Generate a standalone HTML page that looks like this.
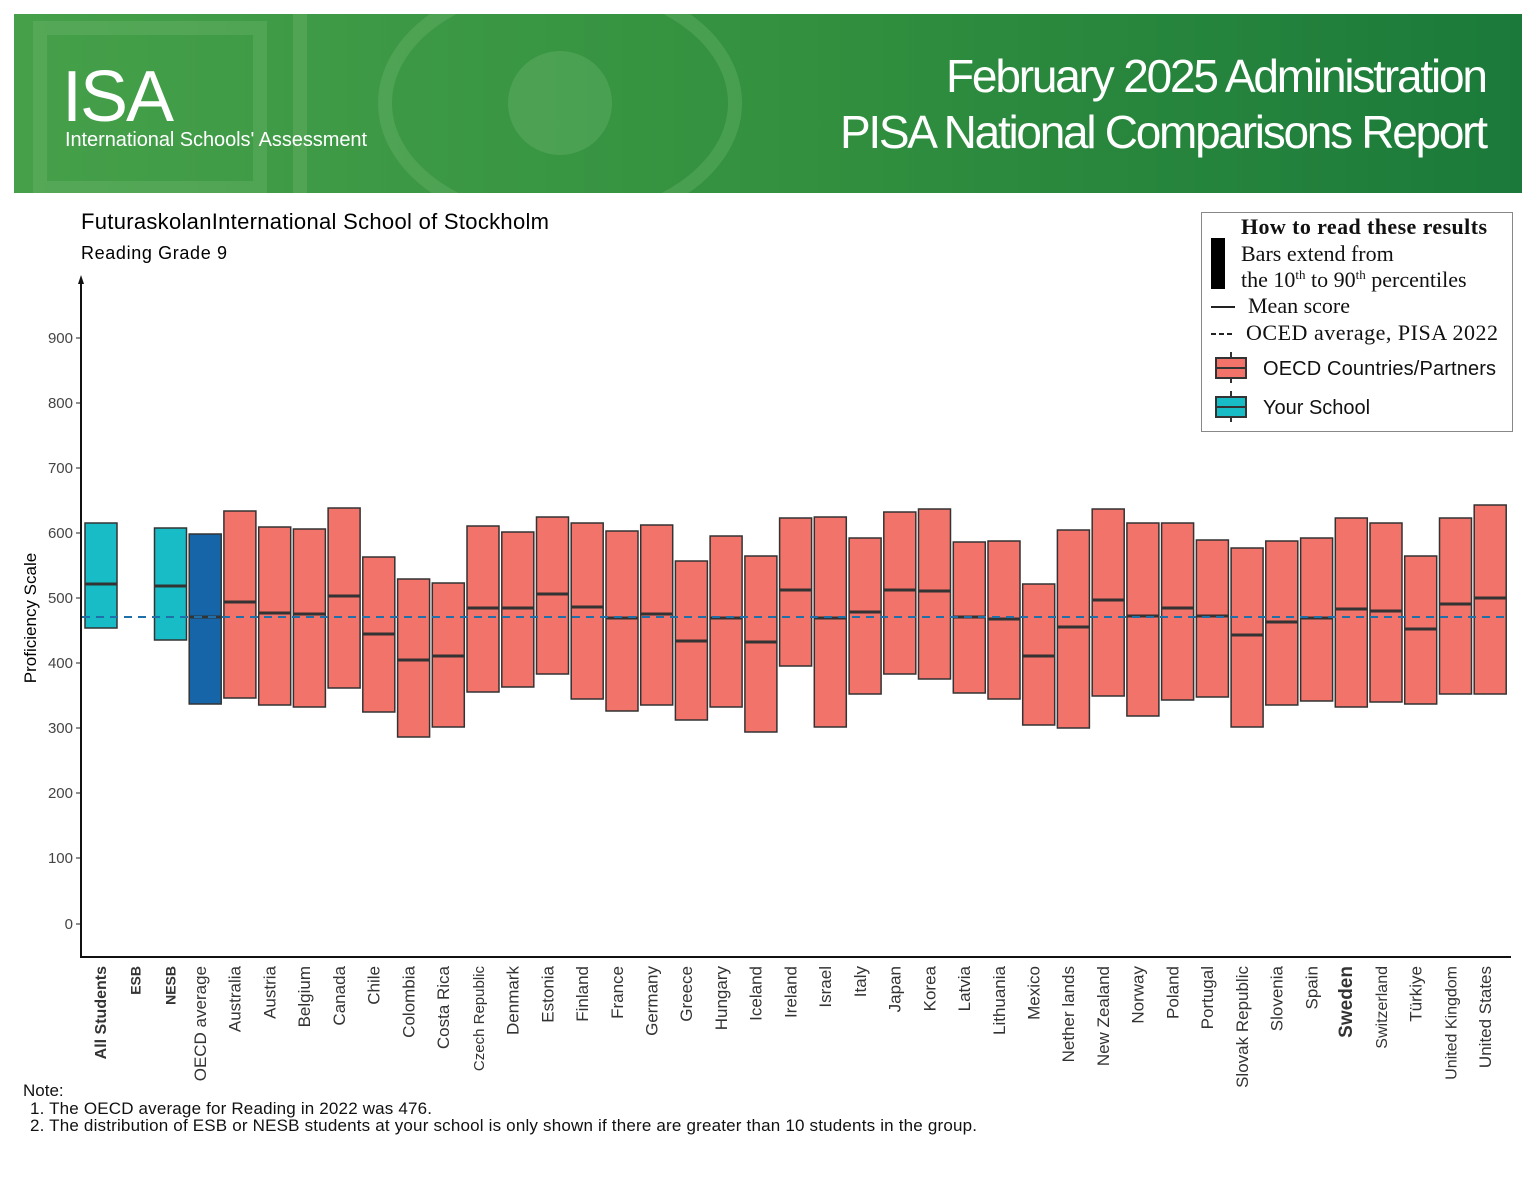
<!DOCTYPE html>
<html><head><meta charset="utf-8"><style>
html,body{margin:0;padding:0;background:#fff;}
svg{display:block;font-family:"Liberation Sans",sans-serif;}
</style></head><body>
<svg width="1536" height="1187" viewBox="0 0 1536 1187" xmlns="http://www.w3.org/2000/svg">
<defs><linearGradient id="g" x1="0" x2="1"><stop offset="0" stop-color="#46a04a"/><stop offset="0.5" stop-color="#33913f"/><stop offset="1" stop-color="#1b7a3a"/></linearGradient>
<clipPath id="bc"><rect x="14" y="14" width="1508" height="179"/></clipPath></defs>
<rect x="14" y="14" width="1508" height="179" fill="url(#g)"/>
<g clip-path="url(#bc)">
<g fill="none" stroke="#6fb86f" stroke-opacity="0.35" stroke-width="14">
<rect x="40" y="28" width="220" height="160"/>
<ellipse cx="560" cy="103" rx="175" ry="120"/>
<line x1="300" y1="14" x2="300" y2="193"/>
</g>
<circle cx="560" cy="103" r="52" fill="#6fb86f" fill-opacity="0.35"/>
</g>
<text x="62" y="121" fill="#fff" font-size="72" font-weight="300" textLength="112">ISA</text>
<text x="65" y="146" fill="#fff" font-size="20" textLength="302">International Schools' Assessment</text>
<text x="1488" y="92" fill="#fff" font-size="46" text-anchor="end" textLength="542">February 2025 Administration</text>
<text x="1488" y="148" fill="#fff" font-size="46" text-anchor="end" textLength="648">PISA National Comparisons Report</text>

<text x="81" y="229" font-size="22" textLength="468">FuturaskolanInternational School of Stockholm</text>
<text x="81" y="259" font-size="18" textLength="146">Reading Grade 9</text>

<text transform="translate(36,618) rotate(-90)" font-size="17" text-anchor="middle">Proficiency Scale</text>
<g font-size="15" fill="#444" text-anchor="end">
<text x="73" y="343">900</text><text x="73" y="408">800</text><text x="73" y="473">700</text><text x="73" y="538">600</text><text x="73" y="603">500</text><text x="73" y="668">400</text><text x="73" y="733">300</text><text x="73" y="798">200</text><text x="73" y="863">100</text><text x="73" y="929">0</text>
</g>
<g stroke="#222" stroke-width="1">
<line x1="76" y1="338" x2="81" y2="338"/><line x1="76" y1="403" x2="81" y2="403"/><line x1="76" y1="468" x2="81" y2="468"/><line x1="76" y1="533" x2="81" y2="533"/><line x1="76" y1="598" x2="81" y2="598"/><line x1="76" y1="663" x2="81" y2="663"/><line x1="76" y1="728" x2="81" y2="728"/><line x1="76" y1="793" x2="81" y2="793"/><line x1="76" y1="858" x2="81" y2="858"/><line x1="76" y1="924" x2="81" y2="924"/>
</g>
<line x1="81" y1="282" x2="81" y2="957" stroke="#111" stroke-width="2"/>
<polygon points="81,275 78,284 84,284" fill="#111"/>
<line x1="80" y1="957" x2="1511" y2="957" stroke="#111" stroke-width="2"/>

<g stroke="#333" stroke-width="1.5">
<rect x="85" y="523" width="32" height="105" fill="#17bcc6"/>
<rect x="154.5" y="528" width="32" height="112" fill="#17bcc6"/>
<rect x="189.2" y="534" width="32" height="170" fill="#1565a8"/>
<g fill="#f2736a">
<rect x="223.9" y="511" width="32" height="187"/>
<rect x="258.7" y="527" width="32" height="178"/>
<rect x="293.4" y="529" width="32" height="178"/>
<rect x="328.1" y="508" width="32" height="180"/>
<rect x="362.8" y="557" width="32" height="155"/>
<rect x="397.6" y="579" width="32" height="158"/>
<rect x="432.3" y="583" width="32" height="144"/>
<rect x="467" y="526" width="32" height="166"/>
<rect x="501.8" y="532" width="32" height="155"/>
<rect x="536.5" y="517" width="32" height="157"/>
<rect x="571.2" y="523" width="32" height="176"/>
<rect x="606" y="531" width="32" height="180"/>
<rect x="640.7" y="525" width="32" height="180"/>
<rect x="675.4" y="561" width="32" height="159"/>
<rect x="710.1" y="536" width="32" height="171"/>
<rect x="744.9" y="556" width="32" height="176"/>
<rect x="779.6" y="518" width="32" height="148"/>
<rect x="814.3" y="517" width="32" height="210"/>
<rect x="849.1" y="538" width="32" height="156"/>
<rect x="883.8" y="512" width="32" height="162"/>
<rect x="918.5" y="509" width="32" height="170"/>
<rect x="953.3" y="542" width="32" height="151"/>
<rect x="988" y="541" width="32" height="158"/>
<rect x="1022.7" y="584" width="32" height="141"/>
<rect x="1057.4" y="530" width="32" height="198"/>
<rect x="1092.2" y="509" width="32" height="187"/>
<rect x="1126.9" y="523" width="32" height="193"/>
<rect x="1161.6" y="523" width="32" height="177"/>
<rect x="1196.4" y="540" width="32" height="157"/>
<rect x="1231.1" y="548" width="32" height="179"/>
<rect x="1265.8" y="541" width="32" height="164"/>
<rect x="1300.6" y="538" width="32" height="163"/>
<rect x="1335.3" y="518" width="32" height="189"/>
<rect x="1370" y="523" width="32" height="179"/>
<rect x="1404.7" y="556" width="32" height="148"/>
<rect x="1439.5" y="518" width="32" height="176"/>
<rect x="1474.2" y="505" width="32" height="189"/>
</g>
</g>
<g stroke="#333" stroke-width="3">
<line x1="85" x2="117" y1="584" y2="584"/>
<line x1="154.5" x2="186.5" y1="586" y2="586"/>
<line x1="189.2" x2="221.2" y1="617" y2="617"/>
<line x1="223.9" x2="255.9" y1="602" y2="602"/>
<line x1="258.7" x2="290.7" y1="613" y2="613"/>
<line x1="293.4" x2="325.4" y1="614" y2="614"/>
<line x1="328.1" x2="360.1" y1="596" y2="596"/>
<line x1="362.8" x2="394.8" y1="634" y2="634"/>
<line x1="397.6" x2="429.6" y1="660" y2="660"/>
<line x1="432.3" x2="464.3" y1="656" y2="656"/>
<line x1="467" x2="499" y1="608" y2="608"/>
<line x1="501.8" x2="533.8" y1="608" y2="608"/>
<line x1="536.5" x2="568.5" y1="594" y2="594"/>
<line x1="571.2" x2="603.2" y1="607" y2="607"/>
<line x1="606" x2="638" y1="618" y2="618"/>
<line x1="640.7" x2="672.7" y1="614" y2="614"/>
<line x1="675.4" x2="707.4" y1="641" y2="641"/>
<line x1="710.1" x2="742.1" y1="618" y2="618"/>
<line x1="744.9" x2="776.9" y1="642" y2="642"/>
<line x1="779.6" x2="811.6" y1="590" y2="590"/>
<line x1="814.3" x2="846.3" y1="618" y2="618"/>
<line x1="849.1" x2="881.1" y1="612" y2="612"/>
<line x1="883.8" x2="915.8" y1="590" y2="590"/>
<line x1="918.5" x2="950.5" y1="591" y2="591"/>
<line x1="953.3" x2="985.3" y1="617" y2="617"/>
<line x1="988" x2="1020" y1="619" y2="619"/>
<line x1="1022.7" x2="1054.7" y1="656" y2="656"/>
<line x1="1057.4" x2="1089.4" y1="627" y2="627"/>
<line x1="1092.2" x2="1124.2" y1="600" y2="600"/>
<line x1="1126.9" x2="1158.9" y1="616" y2="616"/>
<line x1="1161.6" x2="1193.6" y1="608" y2="608"/>
<line x1="1196.4" x2="1228.4" y1="616" y2="616"/>
<line x1="1231.1" x2="1263.1" y1="635" y2="635"/>
<line x1="1265.8" x2="1297.8" y1="622" y2="622"/>
<line x1="1300.6" x2="1332.6" y1="618" y2="618"/>
<line x1="1335.3" x2="1367.3" y1="609" y2="609"/>
<line x1="1370" x2="1402" y1="611" y2="611"/>
<line x1="1404.7" x2="1436.7" y1="629" y2="629"/>
<line x1="1439.5" x2="1471.5" y1="604" y2="604"/>
<line x1="1474.2" x2="1506.2" y1="598" y2="598"/>
</g>
<line x1="82" y1="617" x2="1510" y2="617" stroke="#1f6fa8" stroke-width="2" stroke-dasharray="8,6"/>

<g font-size="17" fill="#333" text-anchor="end">
<text transform="translate(106,966) rotate(-90)" font-weight="bold" font-size="16">All Students</text>
<text transform="translate(140.7,966) rotate(-90)" font-weight="bold" font-size="14">ESB</text>
<text transform="translate(175.5,966) rotate(-90)" font-weight="bold" font-size="14">NESB</text>
<text transform="translate(206,966) rotate(-90)">OECD average</text>
<text transform="translate(240.7,966) rotate(-90)">Australia</text>
<text transform="translate(275.5,966) rotate(-90)">Austria</text>
<text transform="translate(310.2,966) rotate(-90)">Belgium</text>
<text transform="translate(344.9,966) rotate(-90)">Canada</text>
<text transform="translate(379.6,966) rotate(-90)">Chile</text>
<text transform="translate(414.4,966) rotate(-90)">Colombia</text>
<text transform="translate(449.1,966) rotate(-90)">Costa Rica</text>
<text transform="translate(483.8,966) rotate(-90)" font-size="15">Czech Republic</text>
<text transform="translate(518.6,966) rotate(-90)">Denmark</text>
<text transform="translate(553.3,966) rotate(-90)">Estonia</text>
<text transform="translate(588,966) rotate(-90)">Finland</text>
<text transform="translate(622.8,966) rotate(-90)">France</text>
<text transform="translate(657.5,966) rotate(-90)">Germany</text>
<text transform="translate(692.2,966) rotate(-90)">Greece</text>
<text transform="translate(726.9,966) rotate(-90)">Hungary</text>
<text transform="translate(761.7,966) rotate(-90)">Iceland</text>
<text transform="translate(796.4,966) rotate(-90)">Ireland</text>
<text transform="translate(831.1,966) rotate(-90)">Israel</text>
<text transform="translate(865.9,966) rotate(-90)">Italy</text>
<text transform="translate(900.6,966) rotate(-90)">Japan</text>
<text transform="translate(935.3,966) rotate(-90)">Korea</text>
<text transform="translate(970.1,966) rotate(-90)">Latvia</text>
<text transform="translate(1004.8,966) rotate(-90)">Lithuania</text>
<text transform="translate(1039.5,966) rotate(-90)">Mexico</text>
<text transform="translate(1074.2,966) rotate(-90)">Nether lands</text>
<text transform="translate(1109,966) rotate(-90)">New Zealand</text>
<text transform="translate(1143.7,966) rotate(-90)">Norway</text>
<text transform="translate(1178.4,966) rotate(-90)">Poland</text>
<text transform="translate(1213.2,966) rotate(-90)">Portugal</text>
<text transform="translate(1247.9,966) rotate(-90)">Slovak Republic</text>
<text transform="translate(1282.6,966) rotate(-90)">Slovenia</text>
<text transform="translate(1317.4,966) rotate(-90)">Spain</text>
<text transform="translate(1352.1,966) rotate(-90)" font-weight="bold" font-size="19">Sweden</text>
<text transform="translate(1386.8,966) rotate(-90)" font-size="16">Switzerland</text>
<text transform="translate(1421.5,966) rotate(-90)">Türkiye</text>
<text transform="translate(1456.3,966) rotate(-90)" font-size="16">United Kingdom</text>
<text transform="translate(1491,966) rotate(-90)">United States</text>
</g>

<g font-size="17" fill="#111">
<text x="23" y="1096">Note:</text>
<text x="30" y="1114" textLength="402">1. The OECD average for Reading in 2022 was 476.</text>
<text x="30" y="1131" textLength="947">2. The distribution of ESB or NESB students at your school is only shown if there are greater than 10 students in the group.</text>
</g>

<rect x="1201.5" y="212.5" width="311" height="219" fill="#fff" stroke="#888" stroke-width="1"/>
<g font-family="Liberation Serif,serif" font-size="22" fill="#111">
<text x="1241" y="234" font-weight="bold" textLength="246">How to read these results</text>
<text x="1241" y="261">Bars extend from</text>
<text x="1241" y="287">the 10<tspan font-size="13" dy="-8">th</tspan><tspan dy="8"> to 90</tspan><tspan font-size="13" dy="-8">th</tspan><tspan dy="8"> percentiles</tspan></text>
<text x="1248" y="313">Mean score</text>
<text x="1246" y="340" textLength="252">OCED average, PISA 2022</text>
</g>
<rect x="1211" y="238" width="14" height="51" fill="#000"/>
<line x1="1211" y1="307" x2="1235" y2="307" stroke="#222" stroke-width="2"/>
<line x1="1211" y1="334" x2="1235" y2="334" stroke="#222" stroke-width="2" stroke-dasharray="5,3"/>
<g stroke="#333" stroke-width="2">
<line x1="1231" y1="352" x2="1231" y2="383"/>
<rect x="1216" y="358" width="30" height="20" fill="#f2736a"/>
<line x1="1216" y1="368" x2="1246" y2="368"/>
<line x1="1231" y1="391" x2="1231" y2="422"/>
<rect x="1216" y="397" width="30" height="20" fill="#17bcc6"/>
<line x1="1216" y1="407" x2="1246" y2="407"/>
</g>
<g font-size="20" fill="#111">
<text x="1263" y="375" textLength="233">OECD Countries/Partners</text>
<text x="1263" y="414">Your School</text>
</g>
</svg>
</body></html>
